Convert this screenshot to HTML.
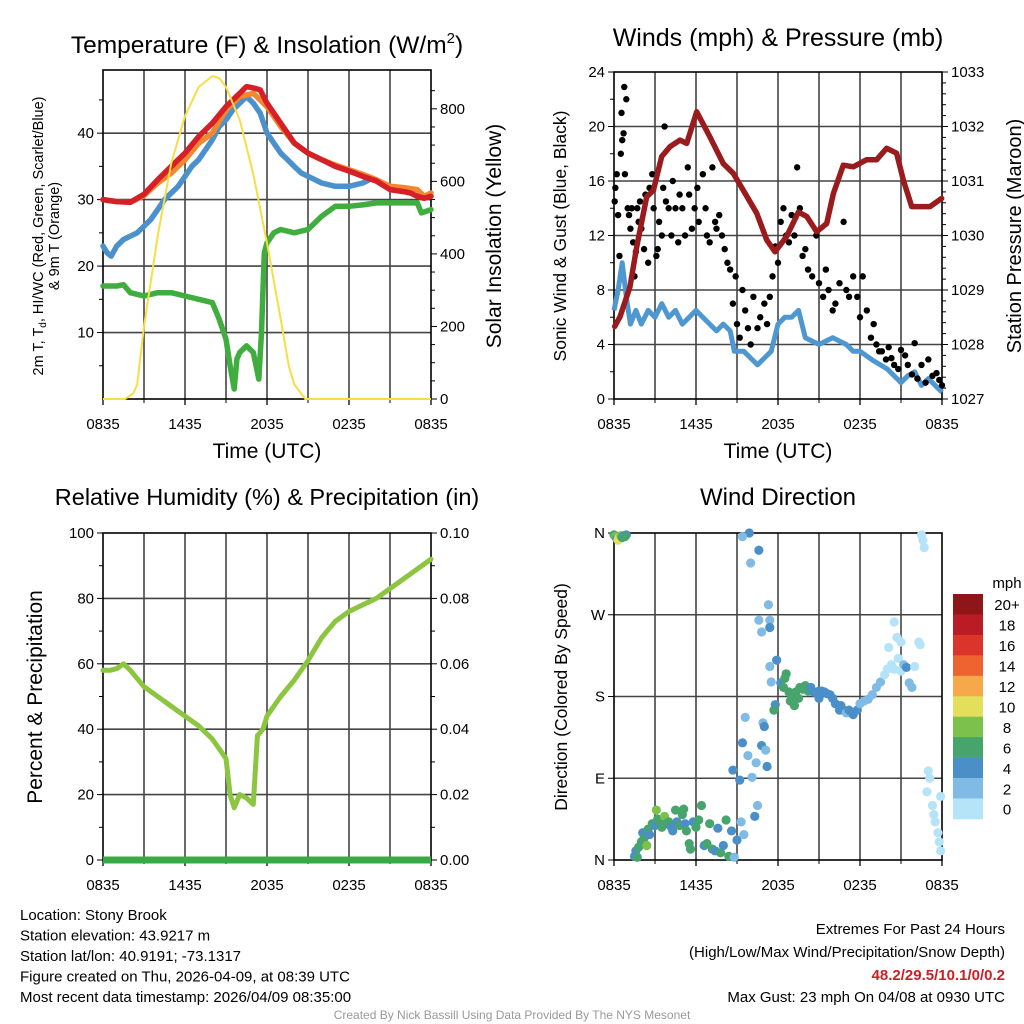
<!DOCTYPE html>
<html><head><meta charset="utf-8">
<style>
html,body{margin:0;padding:0;background:#fff;}
svg{display:block;font-family:"Liberation Sans",Arial,sans-serif;}
</style></head>
<body>
<svg id="chart" width="1024" height="1024" viewBox="0 0 1024 1024">
</svg>
<script>
// ---- Data ----
const timeTickLabels = ["0835","1435","2035","0235","0835"];
// Panel 1 (hours since 0835, value)
const tempRed = [[0,30],[1,29.7],[2,29.6],[3,30.8],[4,33],[5,35],[6,37],[7,39.5],[8,41.5],[9,44],[10,46],[10.5,47],[11,46.8],[11.5,46.5],[12,44.5],[13,41.5],[14,38.5],[15,37],[16,36],[17,35],[18,34.3],[19,33.5],[20,32.8],[21,31.5],[22,31.2],[22.5,31],[23,30.5],[23.5,30.2],[24,30.5]];
const tempOrange = [[0,30],[1,29.7],[2,29.6],[3,30.6],[4,32.5],[5,34],[6,36],[7,38.5],[8,40],[9,43.5],[10,45.5],[11,46],[12,44],[13,41],[14,38.5],[15,37],[16,36],[17,35.2],[18,34.5],[19,33.8],[20,33],[21,32],[22,31.8],[23,31.5],[23.5,30.5],[24,31]];
const windChill = [[0,23],[0.3,22],[0.6,21.5],[1,23],[1.5,24],[2,24.5],[2.5,25],[3,26],[3.5,27],[4,28.5],[4.5,30],[5,31],[5.5,32],[6,33.5],[6.5,35],[7,36],[7.5,37.5],[8,39],[8.5,41],[9,42],[9.5,43.5],[10,44.5],[10.5,45.5],[11,44.5],[11.5,43],[12,40],[12.5,38.5],[13,37],[13.5,36],[14,35],[14.5,34],[15,33.5],[16,32.5],[17,32],[18,32],[19,32.5],[19.5,33]];
const dewPoint = [[0,17],[1,17],[1.5,17.2],[2,16],[3,15.5],[4,16],[5,16],[6,15.5],[7,15],[8,14.5],[8.5,12],[9,9],[9.3,5],[9.6,1.5],[9.8,6],[10,7],[10.5,8],[11,7],[11.4,3],[11.6,10],[11.8,22],[12,23.5],[12.5,25],[13,25.5],[14,25],[15,25.5],[16,27.5],[17,29],[18,29],[19,29.2],[20,29.5],[21,29.5],[22,29.5],[23,29.5],[23.3,28],[24,28.5]];
const solar = [[0,0],[1.6,0],[2.2,15],[2.5,40],[3,200],[4,450],[5,650],[6,780],[7,860],[8,890],[8.5,885],[9,860],[10,770],[11,620],[12,430],[13,220],[13.6,90],[14,40],[14.8,0],[24,0]];
// Panel 2
const windSpeed = [[0,6.5],[0.3,8],[0.6,10],[0.9,7.5],[1.2,5.5],[1.6,6.5],[2,5.5],[2.5,6.5],[3,6],[3.5,7],[4,6],[4.5,6.5],[5,5.5],[5.5,6],[6,6.5],[6.5,6],[7,5.5],[7.5,5],[8,5.5],[8.5,5],[8.8,3.5],[9.5,3.5],[10,3],[10.5,2.5],[11,3],[11.5,3.5],[12,5.5],[12.5,6],[13,6],[13.5,6.5],[14,4.5],[15,4],[16,4.5],[17,4],[17.5,3.5],[18,3.5],[19,2.8],[20,2.2],[21,1.2],[21.5,1.7],[22,2],[22.5,1],[23,1.5],[24,0.5]];
const pressure = [[0.05,1028.33],[0.44,1028.51],[1.17,1029.06],[1.66,1029.79],[2.39,1030.71],[2.88,1030.83],[3.49,1031.45],[4.1,1031.63],[4.83,1031.75],[5.32,1031.69],[6.05,1032.27],[7.02,1031.81],[8.0,1031.32],[8.73,1031.14],[9.46,1030.83],[10.44,1030.41],[11.17,1029.92],[11.78,1029.7],[12.63,1029.98],[13.49,1030.43],[14.1,1030.35],[14.83,1030.07],[15.56,1030.22],[16.05,1030.77],[16.78,1031.29],[17.51,1031.26],[18.49,1031.39],[19.22,1031.39],[19.95,1031.6],[20.68,1031.51],[21.17,1031.02],[21.78,1030.53],[22.39,1030.53],[23.12,1030.53],[23.98,1030.68]];
const gusts = [[0.05,14.5],[0.1,15.5],[0.2,16.5],[0.3,13.5],[0.4,10.5],[0.5,18],[0.55,21],[0.6,19],[0.7,19.5],[0.75,22.9],[0.8,16.5],[0.9,22],[1.0,14],[1.1,13.5],[1.2,12.5],[1.3,14],[1.4,11.5],[1.5,9],[1.6,10.8],[1.7,14],[1.8,13],[1.9,14.5],[2.0,12.5],[2.2,11],[2.3,15],[2.5,10],[2.6,15.5],[2.8,16.5],[2.9,14],[3.1,10.5],[3.2,11],[3.3,13],[3.5,12],[3.6,15.5],[3.7,20],[3.8,14.5],[4.0,14],[4.2,12],[4.3,16],[4.5,14],[4.7,11.5],[4.8,15],[5.0,14],[5.2,12],[5.4,17],[5.5,15],[5.7,12.5],[5.9,14],[6.1,15.5],[6.2,13],[6.5,16.5],[6.7,14],[6.8,12],[7.0,11.5],[7.2,17],[7.4,13],[7.5,12.5],[7.7,13.5],[7.9,12],[8.1,11],[8.3,10],[8.5,9.5],[8.7,7],[8.9,9],[9.0,5.5],[9.2,4.5],[9.4,8],[9.6,6.5],[9.8,5.2],[10.0,4],[10.2,7.5],[10.5,5.2],[10.7,6],[11.0,7],[11.2,5.5],[11.4,7.5],[11.6,9],[11.8,11.2],[12.0,10],[12.2,13],[12.4,14],[12.6,12],[12.8,11.5],[13.0,13.5],[13.2,12],[13.4,17],[13.6,14],[13.8,10.5],[14.0,11],[14.2,9.5],[14.5,9],[14.8,12],[15.0,8.5],[15.3,7.5],[15.5,9.5],[15.7,8],[16.0,6.5],[16.2,7],[16.5,8.5],[16.8,13],[17.0,8],[17.2,7.5],[17.5,9],[17.8,7.5],[18.0,6],[18.2,9],[18.5,6.5],[18.8,4.5],[19.0,5.5],[19.2,4],[19.4,3.5],[19.6,3.5],[19.9,2.9],[20.1,3.8],[20.3,3],[20.5,2.5],[20.8,2.2],[21.0,3.6],[21.3,3.2],[21.5,2.5],[21.8,1.8],[22.0,4.1],[22.2,1.5],[22.5,2.5],[22.8,1.2],[23.0,2.9],[23.3,1.7],[23.6,1.9],[23.8,1.4],[24.0,1.0]];
// Panel 3
const humidity = [[0,58],[0.5,58],[1,58.5],[1.5,60],[2,58],[3,53],[4,50],[5,47],[6,44],[7,41],[8,37],[9,31],[9.3,20],[9.6,16],[10,20],[10.5,19],[11,17],[11.3,38],[11.7,40],[12,44],[13,50],[14,55],[15,61],[16,68],[17,73],[18,76],[19,78],[20,80],[21,83],[22,86],[23,89],[24,92]];
const precip = [[0,0],[24,0]];
// Panel 4 [hour, direction deg, speed mph]
const windDir = [[0,358,6],[0.1,356,8],[0.2,354,4],[0.3,352,10],[0.35,355,10],[0.5,357,8],[0.6,355,6],[0.7,357,4],[0.9,358,4],[0.8,356,6],
[1.5,4,4],[1.6,10,4],[1.7,3,6],[1.8,14,6],[2.0,20,6],[2.1,30,4],[2.2,24,6],[2.4,16,8],[2.5,34,6],[2.6,28,4],[2.8,40,6],[3.0,38,4],[3.1,55,8],[3.2,45,6],[3.4,42,6],[3.5,36,6],[3.7,48,8],[3.8,40,6],[4.0,42,6],[4.2,36,4],[4.3,32,4],[4.5,55,6],[4.6,42,4],[4.8,38,6],[5.0,50,6],[5.1,56,6],[5.2,40,4],[5.3,32,6],[5.5,18,6],[5.6,12,6],[5.8,42,4],[6.0,36,6],[6.2,44,6],[6.4,60,6],[6.6,16,4],[6.8,18,6],[7.0,40,6],[7.2,12,6],[7.4,10,4],[7.6,35,4],[7.8,8,6],[8.0,16,4],[8.2,44,6],[8.4,4,6],[8.6,32,4],[8.8,3,2],[9.0,22,4],
[8.7,99,4],[9.2,88,4],[9.4,129,4],[9.6,157,2],[9.8,115,2],[10.0,327,2],[9.9,360,4],[9.4,356,2],[10.1,91,2],[10.4,107,2],[10.6,341,4],[10.8,126,4],[10.9,151,2],[11.0,147,4],[11.1,121,2],[11.2,103,4],[11.3,281,2],[10.6,264,2],[10.8,251,2],[11.4,264,2],[11.4,256,4],[11.9,220,4],[11.4,213,2],[11.5,196,2],[11.8,171,4],[11.7,165,6],[9.3,42,2],[9.5,28,2],[10.3,48,4],[10.5,60,2],
[12.2,195,4],[12.4,190,6],[12.5,200,6],[12.6,205,6],[12.8,185,6],[12.9,175,6],[13.0,180,6],[13.2,170,6],[13.3,185,6],[13.5,178,6],[13.6,190,6],[13.8,188,6],[14.0,192,6],[14.2,186,6],[14.4,190,4],[14.6,185,4],[14.8,184,4],[15.0,186,4],[15.2,186,4],[15.4,185,4],[15.6,183,4],[15.8,182,4],[16.0,178,4],[16.2,172,4],[16.5,165,4],[16.8,165,4],[17.0,162,2],[17.2,165,4],[17.5,160,4],[17.8,165,4],[18.0,172,2],[18.3,175,2],[18.6,177,2],[18.9,182,2],[19.2,190,2],[19.5,196,2],[19.8,204,0],[20.0,210,0],[20.3,215,0],[20.5,210,0],[20.8,222,0],[21.0,208,0],[21.2,215,2],[21.4,212,4],[21.6,195,2],[21.8,190,2],[22.0,213,0],[20.5,262,0],[21.0,240,0],[20.7,245,0],[22.3,240,0],[22.4,237,0],[20.1,234,0],[16.6,170,4],[15.0,178,4],
[22.5,358,0],[22.6,352,0],[22.7,344,0],[23.0,98,0],[23.1,90,0],[23.3,60,0],[23.4,50,0],[23.5,42,0],[23.7,30,0],[23.8,20,0],[23.9,10,0],[23.9,70,0],[22.9,75,0]];
const speedBinLabels = ["0","2","4","6","8","10","12","14","16","18","20+"];
const speedBinColors = ["#b5e3f8","#7fbbe4","#4a8fc7","#47a46c","#7cc14c","#e4df5a","#f5a94a","#ee6330","#db342b","#bb1b24","#901518"];

// ---- Helpers ----
const NS="http://www.w3.org/2000/svg";
const svg=document.getElementById('chart');
function el(tag,attrs,parent,text){const e=document.createElementNS(NS,tag);for(const k in attrs)e.setAttribute(k,attrs[k]);if(text!==undefined)e.textContent=text;(parent||svg).appendChild(e);return e;}
function lin(d0,d1,r0,r1){return v=>r0+(v-d0)/(d1-d0)*(r1-r0);}
function pathD(arr,sx,sy){return arr.map((p,i)=>(i?'L':'M')+sx(p[0]).toFixed(1)+' '+sy(p[1]).toFixed(1)).join(' ');}
const GRID='#444';

function frame(g,x0,x1,y0,y1){
  const sx=lin(0,24,x0,x1);
  for(let h=3;h<24;h+=3){const l=el('line',{x1:sx(h),x2:sx(h),y1:y0,y2:y1,stroke:GRID,'stroke-width':1.6},g);
    
    }
  const r=el('rect',{x:x0,y:y0,width:x1-x0,height:y1-y0,fill:'none',stroke:'#000','stroke-width':1.6},g);
  
  
  timeTickLabels.forEach((t,i)=>{const x=sx(i*6);
    el('line',{x1:x,x2:x,y1:y1,y2:y1+6,stroke:'#000','stroke-width':1.3},g);
    const tx=el('text',{x:x,y:y1+30,'text-anchor':'middle','font-size':15},g,t);
    
    });
  for(let h=3;h<24;h+=6){el('line',{x1:sx(h),x2:sx(h),y1:y1,y2:y1+4,stroke:'#000'},g);}
  return sx;
}
function hgrid(g,x0,x1,ys){ys.forEach(y=>{const l=el('line',{x1:x0,x2:x1,y1:y,y2:y,stroke:GRID,'stroke-width':1.6},g);
  
  });}
function text(g,x,y,s,size,anchor,name,extra){const t=el('text',Object.assign({x:x,y:y,'font-size':size,'text-anchor':anchor||'start'},extra||{}),g,s);
  
  return t;}

// ===== Panel 1 =====
(function(){
  const g=el('g',{});
  
  
  const x0=103,x1=431,y0=70,y1=399;
  const sy=lin(0,49.5,y1,y0), sr=lin(0,907,y1,y0);
  hgrid(g,x0,x1,[10,20,30,40].map(sy));
  const sx=frame(g,x0,x1,y0,y1);
  [10,20,30,40].forEach(v=>{el('line',{x1:x0-6,x2:x0,y1:sy(v),y2:sy(v),stroke:'#000'},g);text(g,x0-9,sy(v)+5,String(v),15,'end','left-tick-label');});
  [5,15,25,35,45].forEach(v=>el('line',{x1:x0-4,x2:x0,y1:sy(v),y2:sy(v),stroke:'#000'},g));
  [0,200,400,600,800].forEach(v=>{el('line',{x1:x1,x2:x1+6,y1:sr(v),y2:sr(v),stroke:'#000'},g);text(g,x1+9,sr(v)+5,String(v),15,'start','right-tick-label');});
  for(let v=50;v<900;v+=50){if(v%200)el('line',{x1:x1,x2:x1+4,y1:sr(v),y2:sr(v),stroke:'#000'},g);}
  const series=[[dewPoint,'#3fae3f','dewpoint-line'],[windChill,'#4b92cc','windchill-line'],[tempOrange,'#f2872f','temp-9m-line'],[tempRed,'#d42026','temp-2m-line']];
  series.forEach(s=>{const p=el('path',{d:pathD(s[0],sx,sy),fill:'none',stroke:s[1],'stroke-width':5.5,'stroke-linejoin':'round','stroke-linecap':'round'},g);
    
    });
  const ps=el('path',{d:pathD(solar,sx,sr),fill:'none',stroke:'#f8dd45','stroke-width':2},g);
  
  
  const t=el('text',{x:267,y:53,'font-size':24.5,'text-anchor':'middle'},g);
  
  
  t.innerHTML='Temperature (F) &amp; Insolation (W/m<tspan dy="-10" font-size="15">2</tspan><tspan dy="10">)</tspan>';
  text(g,267,458,'Time (UTC)',21,'middle','x-axis-title');
  const yt=el('text',{transform:'translate(43,236) rotate(-90)','font-size':14.5,'text-anchor':'middle'},g);
  
  
  yt.innerHTML='2m T, T<tspan dy="3" font-size="10">d</tspan><tspan dy="-3">, HI/WC (Red, Green, Scarlet/Blue)</tspan>';
  text(g,0,0,'& 9m T (Orange)',14.5,'middle','left-y-axis-title-line2',{transform:'translate(59,236) rotate(-90)'});
  text(g,0,0,'Solar Insolation (Yellow)',21,'middle','right-y-axis-title',{transform:'translate(501,236) rotate(-90)'});
})();

// ===== Panel 2 =====
(function(){
  const g=el('g',{});
  
  
  const x0=614,x1=942,y0=72,y1=399;
  const sy=lin(0,24,y1,y0), sp=lin(1027,1033,y1,y0);
  hgrid(g,x0,x1,[4,8,12,16,20].map(sy));
  const sx=frame(g,x0,x1,y0,y1);
  [0,4,8,12,16,20,24].forEach(v=>{el('line',{x1:x0-6,x2:x0,y1:sy(v),y2:sy(v),stroke:'#000'},g);text(g,x0-9,sy(v)+5,String(v),15,'end','left-tick-label');});
  for(let v=2;v<24;v+=4)el('line',{x1:x0-4,x2:x0,y1:sy(v),y2:sy(v),stroke:'#000'},g);
  [1027,1028,1029,1030,1031,1032,1033].forEach(v=>{el('line',{x1:x1,x2:x1+6,y1:sp(v),y2:sp(v),stroke:'#000'},g);text(g,x1+9,sp(v)+5,String(v),15,'start','right-tick-label');});
  for(let v=1027.2;v<1033;v+=0.2){el('line',{x1:x1,x2:x1+4,y1:sp(v),y2:sp(v),stroke:'#000'},g);}
  const pw=el('path',{d:pathD(windSpeed,sx,sy),fill:'none',stroke:'#4f97d1','stroke-width':5,'stroke-linejoin':'round'},g);
  
  
  gusts.forEach(p=>{const c=el('circle',{cx:sx(p[0]),cy:sy(p[1]),r:3.2,fill:'#000'},g);
    
    });
  const pp=el('path',{d:pathD(pressure,sx,sp),fill:'none',stroke:'#9a1b1e','stroke-width':5.5,'stroke-linejoin':'round','stroke-linecap':'round'},g);
  
  
  text(g,778,46,'Winds (mph) & Pressure (mb)',25,'middle','winds-title');
  text(g,778,458,'Time (UTC)',21,'middle','x-axis-title');
  text(g,0,0,'Sonic Wind & Gust (Blue, Black)',17.5,'middle','left-y-axis-title',{transform:'translate(566,236) rotate(-90)'});
  text(g,0,0,'Station Pressure (Maroon)',20,'middle','right-y-axis-title',{transform:'translate(1021,236) rotate(-90)'});
})();

// ===== Panel 3 =====
(function(){
  const g=el('g',{});
  
  
  const x0=103,x1=431,y0=533,y1=860;
  const sy=lin(0,100,y1,y0), sr=lin(0,0.1,y1,y0);
  hgrid(g,x0,x1,[20,40,60,80].map(sy));
  const sx=frame(g,x0,x1,y0,y1);
  [0,20,40,60,80,100].forEach(v=>{el('line',{x1:x0-6,x2:x0,y1:sy(v),y2:sy(v),stroke:'#000'},g);text(g,x0-9,sy(v)+5,String(v),15,'end','left-tick-label');});
  for(let v=10;v<100;v+=20)el('line',{x1:x0-4,x2:x0,y1:sy(v),y2:sy(v),stroke:'#000'},g);
  ['0.00','0.02','0.04','0.06','0.08','0.10'].forEach(s=>{const v=parseFloat(s);el('line',{x1:x1,x2:x1+6,y1:sr(v),y2:sr(v),stroke:'#000'},g);text(g,x1+9,sr(v)+5,s,15,'start','right-tick-label');});
  for(let v=0.01;v<0.1;v+=0.02)el('line',{x1:x1,x2:x1+4,y1:sr(v),y2:sr(v),stroke:'#000'},g);
  const ph=el('path',{d:pathD(humidity,sx,sy),fill:'none',stroke:'#8cc53f','stroke-width':5,'stroke-linejoin':'round','stroke-linecap':'round'},g);
  
  
  const pr=el('path',{d:pathD(precip,sx,sr),fill:'none',stroke:'#3aa845','stroke-width':7},g);
  
  
  text(g,267,505,'Relative Humidity (%) & Precipitation (in)',23.5,'middle','humidity-title');
  text(g,0,0,'Percent & Precipitation',21,'middle','left-y-axis-title',{transform:'translate(42,697) rotate(-90)'});
})();

// ===== Panel 4 =====
(function(){
  const g=el('g',{});
  
  
  const x0=614,x1=942,y0=533,y1=860;
  const sy=lin(0,360,y1,y0);
  hgrid(g,x0,x1,[90,180,270].map(sy));
  const sx=frame(g,x0,x1,y0,y1);
  ['N','E','S','W','N'].forEach((s,i)=>{const v=i*90;el('line',{x1:x0-6,x2:x0,y1:sy(v),y2:sy(v),stroke:'#000'},g);text(g,x0-9,sy(v)+5,s,15,'end','direction-tick-label');});
  windDir.forEach(p=>{const b=Math.min(10,Math.floor(p[2]/2));
    const c=el('circle',{cx:sx(p[0]),cy:sy(p[1]),r:4.6,fill:speedBinColors[b]},g);
    
    });
  text(g,778,505,'Wind Direction',24,'middle','wind-direction-title');
  text(g,0,0,'Direction (Colored By Speed)',17.5,'middle','left-y-axis-title',{transform:'translate(567,697) rotate(-90)'});
  const cb=el('g',{},g);
  
  
  const top=594,bh=20.45;
  for(let i=0;i<11;i++){const idx=10-i;
    const r=el('rect',{x:953,y:top+i*bh,width:30,height:bh+0.3,fill:speedBinColors[idx]},cb);
    
    
    text(cb,1007,top+i*bh+bh/2+6,speedBinLabels[idx],15,'middle','colorbar-label');}
  text(cb,1007,588,'mph',15,'middle','colorbar-unit');
})();

// ===== Footer =====
(function(){
  const g=el('g',{});
  
  
  const lines=['Location: Stony Brook','Station elevation: 43.9217 m','Station lat/lon: 40.9191; -73.1317','Figure created on Thu, 2026-04-09, at 08:39 UTC','Most recent data timestamp: 2026/04/09 08:35:00'];
  lines.forEach((s,i)=>text(g,20,920+i*20.5,s,15,'start','station-info-line'));
  text(g,1005,934,'Extremes For Past 24 Hours',15,'end','extremes-heading');
  text(g,1005,957,'(High/Low/Max Wind/Precipitation/Snow Depth)',15,'end','extremes-subheading');
  text(g,1005,980,'48.2/29.5/10.1/0/0.2',15,'end','extremes-values',{fill:'#cc1f26','font-weight':'bold'});
  text(g,1005,1002,'Max Gust: 23 mph On 04/08 at 0930 UTC',15,'end','max-gust-text');
  text(g,512,1019,'Created By Nick Bassill Using Data Provided By The NYS Mesonet',12,'middle','credit-text',{fill:'#999'});
})();
</script>
</body></html>
